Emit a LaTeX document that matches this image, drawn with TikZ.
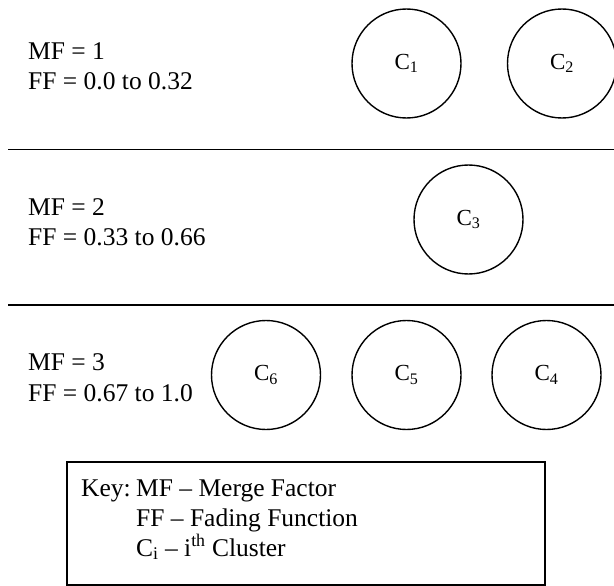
\documentclass[tikz,border=0pt]{standalone}
\usepackage{fontspec}
\setmainfont{Liberation Serif}
\begin{document}
\begin{tikzpicture}[x=1pt, y=-1pt,
  cluster/.style={draw, circle, line width=1.4pt, minimum size=109pt, inner sep=0pt,
    font=\fontsize{23}{27}\selectfont},
  label/.style={anchor=base west, inner sep=0pt, font=\fontsize{25.5}{30.7}\selectfont},
  rule/.style={line width=1.8pt}]
  \useasboundingbox (0, 0) rectangle (614, 586);

  %% MF = 1
  \node[label] (mf1) at (28, 59.5) {MF = 1};
  \node[label] (ff1) at (28, 90) {FF = 0.0 to 0.32};

  \node[cluster] (C1) at (406.5, 63.5) {C\textsubscript{1}};
  \node[cluster] (C2) at (562, 63.5) {C\textsubscript{2}};

  \coordinate (r1a) at (8, 149.5);
  \coordinate (r1b) at (614, 149.5);
  \draw[rule] (r1a) -- (r1b);

  %% MF = 2
  \node[label] (mf2) at (28, 215) {MF = 2};
  \node[label] (ff2) at (28, 245.5) {FF = 0.33 to 0.66};

  \node[cluster] (C3) at (468.5, 219.5) {C\textsubscript{3}};

  \coordinate (r2a) at (8, 305);
  \coordinate (r2b) at (614, 305);
  \draw[rule] (r2a) -- (r2b);

  %% MF = 3
  \node[label] (mf3) at (28, 370.5) {MF = 3};
  \node[label] (ff3) at (28, 401) {FF = 0.67 to 1.0};

  \node[cluster] (C6) at (266, 375) {C\textsubscript{6}};
  \node[cluster] (C5) at (406.5, 375) {C\textsubscript{5}};
  \node[cluster] (C4) at (546.5, 375) {C\textsubscript{4}};

  %% key
  \draw[rule] (67, 462) rectangle (545, 585);
  \node[label] (key) at (81, 496) {Key:};
  \node[label] (kmf) at (136, 496) {MF \textendash{} Merge Factor};
  \node[label] (kff) at (136, 526) {FF \textendash{} Fading Function};
  \node[label] (kci) at (136, 556) {C\textsubscript{i} \textendash{} i\textsuperscript{th} Cluster};
\end{tikzpicture}
\end{document}
